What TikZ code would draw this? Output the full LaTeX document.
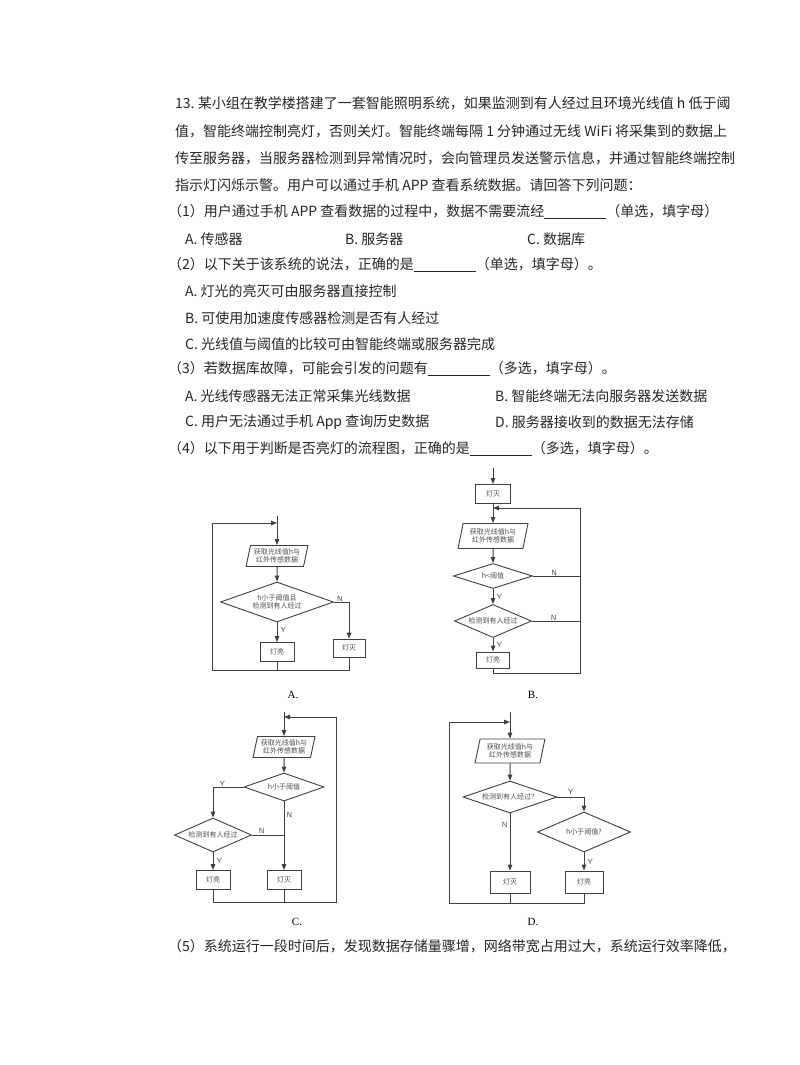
\documentclass[tikz,border=0pt]{standalone}
\usepackage{fontspec}
\setmainfont{Liberation Serif}
\newfontfamily\cjk{Noto Sans CJK SC}
\usetikzlibrary{shapes.geometric,arrows.meta}
\begin{document}
\begin{tikzpicture}[x=1pt,y=-1pt,
  txt/.style={anchor=west,inner sep=0,font=\cjk\fontsize{14}{14}\selectfont,text=black!85},
  fc/.style={draw=black!75,line width=0.9pt,font=\cjk\fontsize{7}{8}\selectfont,text=black!70,inner sep=0,align=center},
  bx/.style={fc,rectangle,minimum width=34pt,minimum height=19pt},
  io/.style={fc,trapezium,trapezium left angle=75,trapezium right angle=105,trapezium stretches=true},
  dec/.style={fc,diamond,aspect=2.6},
  ln/.style={draw=black!75,line width=1pt},
  ar/.style={ln,-{Triangle[length=6pt,width=4.5pt]}},
  yn/.style={font=\sffamily\fontsize{7.5}{8}\selectfont,text=black!70,inner sep=0},
  lbl/.style={font=\fontsize{11}{12}\selectfont,inner sep=0}]
\useasboundingbox (0,0) rectangle (800,1065);
\fill[white] (0,0) rectangle (800,1065);
% text
\node[txt] (t1) at (175,103) {13.\ 某小组在教学楼搭建了一套智能照明系统，如果监测到有人经过且环境光线值 h 低于阈};
\node[txt] (t2) at (175,131) {值，智能终端控制亮灯，否则关灯。智能终端每隔 1 分钟通过无线 WiFi 将采集到的数据上};
\node[txt] (t3) at (175,158) {传至服务器，当服务器检测到异常情况时，会向管理员发送警示信息，并通过智能终端控制};
\node[txt] (t4) at (175,185) {指示灯闪烁示警。用户可以通过手机 APP 查看系统数据。请回答下列问题：};
\node[txt] (t5) at (168,212) {（1）用户通过手机 APP 查看数据的过程中，数据不需要流经\underline{\hspace{62pt}}（单选，填字母）};
\node[txt] (t6a) at (185,239) {A.\ 传感器};
\node[txt] (t6b) at (345,239) {B.\ 服务器};
\node[txt] (t6c) at (527,239) {C.\ 数据库};
\node[txt] (t7) at (168,265) {（2）以下关于该系统的说法，正确的是\underline{\hspace{62pt}}（单选，填字母）。};
\node[txt] (t8) at (185,291) {A.\ 灯光的亮灭可由服务器直接控制};
\node[txt] (t9) at (185,318) {B.\ 可使用加速度传感器检测是否有人经过};
\node[txt] (t10) at (185,344) {C.\ 光线值与阈值的比较可由智能终端或服务器完成};
\node[txt] (t11) at (168,369) {（3）若数据库故障，可能会引发的问题有\underline{\hspace{62pt}}（多选，填字母）。};
\node[txt] (t12a) at (185,396) {A.\ 光线传感器无法正常采集光线数据};
\node[txt] (t12b) at (495,396) {B.\ 智能终端无法向服务器发送数据};
\node[txt] (t13a) at (185,422) {C.\ 用户无法通过手机 App 查询历史数据};
\node[txt] (t13b) at (495,422) {D.\ 服务器接收到的数据无法存储};
\node[txt] (t14) at (168,449) {（4）以下用于判断是否亮灯的流程图，正确的是\underline{\hspace{62pt}}（多选，填字母）。};
\node[txt] (t15) at (168,946) {（5）系统运行一段时间后，发现数据存储量骤增，网络带宽占用过大，系统运行效率降低，};
% ---- A
\coordinate (As) at (277,516);
\node[io,minimum width=62pt,minimum height=21pt] (A1) at (277,556) {获取光线值h与\\红外传感数据};
\node[dec,minimum width=113pt,minimum height=40pt] (A2) at (277,602) {h小于阈值且\\检测到有人经过};
\node[bx] (A3) at (277,652) {灯亮};
\node[bx,minimum width=32pt,minimum height=18pt] (A4) at (349,648) {灯灭};
\coordinate (Ab) at (212,670);
\coordinate (At) at (277,523);
\draw[ar] (As) -- (A1);
\draw[ar] (A1) -- (A2);
\draw[ar] (A2) -- node[yn,right,pos=0.4,xshift=3pt]{Y} (A3);
\draw[ar] (A2.east) -| node[yn,above,pos=0.2]{N} (A4);
\draw[ln] (A3.south) |- (Ab) -- (212,523);
\draw[ar] (212,523) -- (At);
\draw[ln] (A4.south) |- (Ab);
\node[lbl] (Al) at (293,695) {A.};
% ---- B
\coordinate (Bs) at (493,468);
\node[bx,minimum width=35pt] (B0) at (493,494) {灯灭};
\node[io,minimum width=70pt,minimum height=25pt] (B1) at (493,536) {获取光线值h与\\红外传感数据};
\node[dec,minimum width=79pt,minimum height=25pt] (B2) at (493,576) {h<阈值};
\node[dec,minimum width=77pt,minimum height=33pt] (B3) at (493,621) {检测到有人经过};
\node[bx,minimum width=33pt,minimum height=16pt] (B4) at (493,660) {灯亮};
\coordinate (Bt) at (493,508);
\draw[ar] (Bs) -- (B0);
\draw[ar] (B0) -- (B1);
\draw[ar] (B1) -- (B2);
\draw[ar] (B2) -- node[yn,right,xshift=3pt]{Y} (B3);
\draw[ar] (B3) -- node[yn,right,xshift=3pt]{Y} (B4);
\draw[ln] (B2.east) -- node[yn,above,pos=0.45]{N} (580,576);
\draw[ln] (B3.east) -- node[yn,above,pos=0.45]{N} (580,621);
\draw[ln] (B4.south) |- (580,673) -- (580,508);
\draw[ar] (580,508) -- (Bt);
\node[lbl] (Bl) at (533,695) {B.};
% ---- C
\node[io,minimum width=62pt,minimum height=21pt] (C1) at (284,747) {获取光线值h与\\红外传感数据};
\node[dec,minimum width=80pt,minimum height=28pt] (C2) at (284,787) {h小于阈值};
\node[dec,minimum width=77pt,minimum height=34pt] (C3) at (213,835) {检测到有人经过};
\node[bx] (C4) at (213,880) {灯亮};
\node[bx] (C5) at (284,880) {灯灭};
\coordinate (Ct) at (284,717);
\coordinate (Cj) at (284,835);
\draw[ln] (Ct) -- (284,712);
\draw[ar] (Ct) -- (C1);
\draw[ar] (C1) -- (C2);
\draw[ar] (C2.west) -| node[yn,above,pos=0.35]{Y} (C3);
\draw[ar] (C2) -- node[yn,right,pos=0.2,xshift=2pt]{N} (C5);
\draw[ln] (C3.east) -- node[yn,above,pos=0.3,yshift=1pt]{N} (Cj);
\draw[ar] (C3) -- node[yn,right,xshift=3pt]{Y} (C4);
\draw[ln] (C4.south) |- (336,902) -- (336,717);
\draw[ln] (C5.south) -- (284,902);
\draw[ar] (336,717) -- (Ct);
\node[lbl] (Cl) at (297,922) {C.};
% ---- D
\coordinate (Ds) at (510,712);
\node[io,minimum width=70pt,minimum height=24pt] (D1) at (510,751) {获取光线值h与\\红外传感数据};
\node[dec,minimum width=94pt,minimum height=32pt] (D2) at (510,797) {检测到有人经过？};
\node[dec,minimum width=93pt,minimum height=40pt] (D3) at (584,832) {h小于阈值?};
\node[bx,minimum width=40pt,minimum height=22pt] (D4) at (510,882) {灯灭};
\node[bx,minimum width=38pt,minimum height=22pt] (D5) at (584,882) {灯亮};
\coordinate (Dt) at (510,722);
\draw[ar] (Ds) -- (D1);
\draw[ar] (D2.east) -| node[yn,above,pos=0.25,yshift=2pt]{Y} (D3);
\draw[ar] (D1) -- (D2);
\draw[ar] (D2) -- node[yn,left,pos=0.2,xshift=-2pt]{N} (D4);
\draw[ar] (D3) -- node[yn,right,xshift=3pt]{Y} (D5);
\draw[ln] (D5.south) |- (449,903) -- (449,722);
\draw[ln] (D4.south) -- (510,903);
\draw[ar] (449,722) -- (Dt);
\node[lbl] (Dl) at (533,922) {D.};
\end{tikzpicture}
\end{document}
